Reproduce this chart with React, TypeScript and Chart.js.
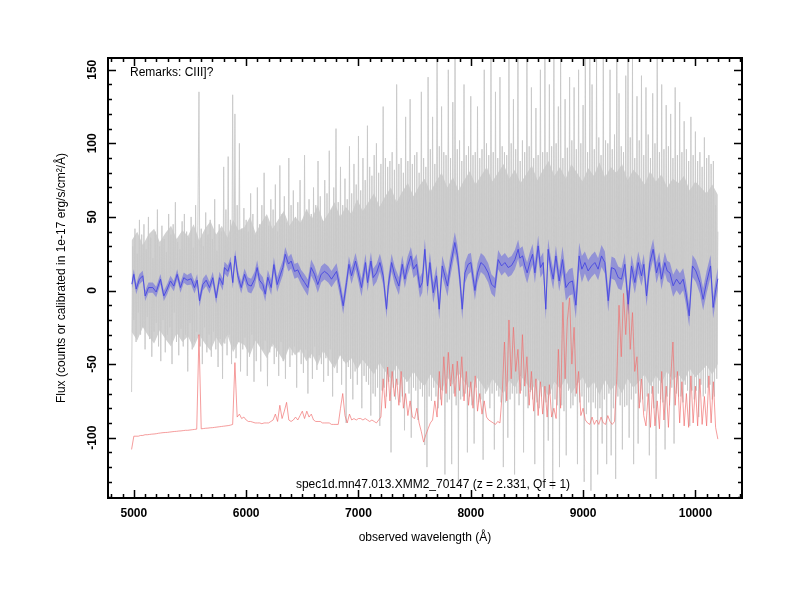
import React, { useEffect, useRef } from "react";
import { Chart, registerables } from "chart.js";
Chart.register(...registerables);

// ---------- data ----------
const WAVE_START = 4980;
const WAVE_END = 10200;

// raw (unsmoothed) spectrum, uniform 10 Å grid 4980..10200
const rawFlux = [
  -69, 30, -20, 42, -35, 25, -15, 48, -30, 38,
  -25, 45, -40, 28, -18, 50, -33, 36, -45, 22,
  -28, 40, -22, 55, -38, 30, -48, 44, -20, 35,
  -42, 26, -30, 52, -25, 38, -50, 45, -15, 60,
  -35, 33, -44, 28, -26, 47, -38, 52, -30, 40,
  -55, 36, -22, 50, -40, 29, -35, 58, -28, 44,
  135, -38, 42, -50, 30, -25, 53, -42, 38, -30,
  48, -45, 35, -28, 62, -40, 27, -52, 45, -33,
  40, -60, 84, -36, 55, -44, 91, -30, 48, -50,
  133, -38, 120, -46, 58, -35, 100, -55, 42, -40,
  56, -32, 48, -58, 40, -45, 66, -30, 52, -62,
  38, -48, 70, -36, 45, -55, 58, -40, 80, -34,
  50, -65, 44, -42, 62, -38, 55, -50, 72, -45,
  40, -58, 85, -35, 52, -48, 64, -60, 46, -40,
  90, -52, 58, -44, 68, -38, 50, -66, 60, -42,
  75, -50, 48, -56, 92, -40, 55, -70, 62, -46,
  52, -60, 70, -38, 58, -54, 88, -44, 64, -50,
  48, -62, 75, -46, 66, -58, 95, -40, 55, -72,
  70, -50, 110, -56, 60, -44, 84, -64, 58, -48,
  76, -90, 62, -52, 98, -60, 66, -74, 86, -55,
  72, -64, 105, -50, 68, -80, 90, -58, 75, -62,
  112, -64, 84, -85, 78, -70, 92, -72, 100, -66,
  80, -92, 86, -68, 125, -66, 90, -72, 84, -62,
  88, -110, 94, -66, 82, -74, 140, -64, 86, -76,
  90, -72, 80, -95, 118, -62, 88, -70, 130, -100,
  86, -66, 92, -68, 94, -88, 80, -67, 135, -72,
  90, -105, 84, -120, 145, -72, 96, -75, 118, -66,
  86, -72, 158, -80, 98, -74, 125, -68, 94, -125,
  92, -76, 150, -74, 90, -118, 128, -70, 158, -78,
  96, -130, 102, -74, 88, -72, 140, -70, 92, -110,
  98, -72, 132, -78, 92, -104, 94, -66, 125, -76,
  90, -74, 96, -115, 150, -70, 100, -64, 92, -80,
  158, -70, 94, -108, 135, -68, 90, -72, 145, -76,
  98, -120, 94, -76, 92, -100, 158, -74, 100, -70,
  130, -125, 96, -70, 158, -78, 88, -68, 102, -110,
  94, -72, 158, -80, 98, -69, 138, -74, 90, -118,
  124, -76, 92, -80, 150, -72, 94, -128, 158, -76,
  94, -102, 140, -70, 98, -135, 158, -74, 100, -78,
  125, -120, 158, -78, 90, -82, 130, -112, 97, -68,
  145, -80, 102, -78, 138, -72, 96, -118, 150, -76,
  100, -72, 126, -130, 158, -84, 94, -76, 158, -136,
  140, -76, 96, -80, 158, -125, 104, -80, 92, -104,
  158, -74, 102, -118, 100, -70, 150, -112, 96, -80,
  106, -128, 158, -72, 134, -78, 98, -108, 94, -79,
  146, -78, 158, -100, 104, -74, 158, -118, 90, -70,
  132, -104, 102, -76, 146, -74, 92, -82, 138, -72,
  106, -112, 90, -70, 134, -80, 100, -128, 158, -70,
  94, -74, 140, -76, 96, -108, 126, -72, 98, -78,
  120, -66, 90, -104, 138, -70, 92, -72, 128, -72,
  94, -76, 115, -64, 96, -68, 88, -92, 118, -68,
  92, -74, 108, -68, 88, -86, 94, -64, 84, -72,
  104, -70, 90, -66, 92, -64, 86, -74, 88, -72,
  58, -60, 40,
];

// dense core of the raw spectrum, uniform grid 4980..10200 (105 samples)
const coreUpper = [
  34, 40, 31, 38, 42, 33, 39, 44, 35, 41,
  37, 45, 34, 42, 47, 38, 44, 36, 48, 41,
  43, 50, 39, 46, 52, 42, 48, 54, 44, 50,
  46, 55, 49, 58, 47, 53, 60, 50, 57, 52,
  62, 54, 60, 66, 57, 64, 70, 60, 67, 73,
  64, 71, 76, 67, 74, 80, 70, 77, 68, 75,
  81, 72, 78, 84, 74, 80, 86, 76, 82, 73,
  79, 85, 75, 82, 88, 78, 84, 76, 86, 80,
  74, 83, 78, 87, 77, 84, 80, 86, 75, 82,
  78, 72, 81, 74, 79, 70, 76, 73, 78, 68,
  74, 70, 66, 72, 65,
];
const coreLower = [
  -28, -34, -25, -31, -36, -27, -33, -38, -29, -35,
  -31, -39, -30, -36, -41, -32, -38, -30, -42, -35,
  -37, -44, -34, -40, -46, -36, -42, -48, -38, -44,
  -40, -48, -43, -51, -41, -47, -53, -44, -50, -46,
  -54, -47, -52, -57, -49, -55, -60, -51, -58, -62,
  -55, -61, -65, -57, -63, -68, -59, -64, -56, -62,
  -67, -58, -63, -69, -60, -65, -70, -61, -66, -58,
  -63, -68, -60, -66, -72, -62, -67, -60, -70, -64,
  -59, -67, -62, -71, -61, -68, -63, -70, -60, -66,
  -62, -57, -65, -58, -63, -55, -61, -57, -62, -53,
  -59, -55, -51, -57, -50,
];

// sky spectrum (offset), uniform 20 Å grid 4980..10200
const skyFlux = [
  -108, -99, -99, -99, -98.5, -98.5, -98, -98, -97.8, -97.6,
  -97.5, -97.3, -97, -96.8, -96.6, -96.5, -96.4, -96.2, -96, -95.8,
  -95.7, -95.5, -95.4, -95.2, -95, -95, -94.8, -94.6, -94.4, -94.2,
  -30, -94, -93.8, -93.6, -93.5, -93.3, -93.2, -93, -92.8, -92.6,
  -92.4, -92.2, -92, -91.8, -91.5, -91, -49, -86, -84, -87,
  -86, -88, -89, -89, -89.5, -90, -90, -90, -90.5, -90,
  -90, -90, -89, -88, -84, -89, -78, -87, -82, -76,
  -88, -89, -88, -86, -88, -85, -82, -87, -82, -86,
  -84, -88, -89, -89, -89, -90, -90, -90, -90, -91,
  -91, -91, -91, -80, -70, -85, -90, -84, -88, -87,
  -88, -87, -87, -88, -87, -88, -89, -88, -89, -90,
  -88, -86, -60, -80, -52, -75, -55, -72, -60, -78,
  -55, -80, -70, -85, -75, -86, -87, -80, -90, -96,
  -103, -98, -94, -90, -88, -75, -86, -55, -78, -45,
  -70, -42, -65, -50, -72, -48, -68, -45, -75, -55,
  -78, -62, -80, -58, -82, -70, -84, -75, -86, -88,
  -89, -90, -91, -89, -90, -70, -35, -75, -20, -60,
  -25, -55, -40, -70, -30, -65, -45, -78, -55, -82,
  -60, -85, -62, -84, -65, -86, -64, -86, -80, -87,
  -40, -80, -8, -60, -20, -5, -50, -25, -70, -55,
  -85, -80, -88, -90, -91, -86, -91, -88, -91, -86,
  -90, -91, -85, -89, -91, -89, -60, -10, -45, -2,
  -30, 0, -40, -15, -55, -45, -80, -60, -85, -92,
  -70, -93, -65, -92, -75, -94, -55, -88, -65, -93,
  -60, -35, -78, -55, -90, -62, -92, -70, -93, -58,
  -90, -65, -92, -60, -91, -72, -92, -58, -90, -62,
  -93, -101,
];

// smoothed spectrum
const smoothWave = [
  4982, 5000, 5021, 5050, 5080, 5101, 5131, 5169, 5199, 5237, 5267, 5297, 5326, 5356, 5386, 5415, 5445, 5475, 5510, 5540,
  5564, 5585, 5614, 5644, 5674, 5703, 5733, 5763, 5792, 5807, 5837, 5861, 5881, 5902, 5926, 5956, 5986, 6015, 6045, 6075,
  6098, 6119, 6149, 6170, 6193, 6223, 6247, 6276, 6306, 6327, 6348, 6377, 6401, 6431, 6460, 6490, 6520, 6549, 6579, 6609,
  6638, 6668, 6698, 6731, 6760, 6805, 6835, 6864, 6894, 6915, 6938, 6974, 6998, 7027, 7063, 7081, 7111, 7131, 7161, 7191,
  7220, 7250, 7265, 7295, 7324, 7360, 7390, 7413, 7437, 7467, 7490, 7517, 7547, 7568, 7591, 7615, 7636, 7666, 7695, 7719,
  7746, 7769, 7793, 7814, 7858, 7882, 7903, 7924, 7948, 7977, 8001, 8037, 8060, 8090, 8120, 8155, 8185, 8215, 8244, 8274,
  8304, 8333, 8363, 8393, 8422, 8437, 8461, 8482, 8502, 8526, 8550, 8571, 8600, 8621, 8645, 8668, 8689, 8710, 8734, 8758,
  8787, 8817, 8847, 8876, 8906, 8936, 8965, 8989, 9016, 9045, 9075, 9105, 9134, 9164, 9194, 9224, 9253, 9283, 9313, 9342,
  9372, 9402, 9431, 9461, 9491, 9520, 9541, 9565, 9595, 9624, 9654, 9678, 9698, 9728, 9749, 9773, 9802, 9832, 9862, 9891,
  9915, 9945, 9974, 10004, 10040, 10069, 10099, 10135, 10158, 10182, 10200,
];
const smoothFlux = [
  4.3, 11, 1, 7.7, 10, -3.7, 2, 2, -1, 7.7, -3.7, 1, 6.5, 3, 11, 2, 8.7, 7, 8, 2,
  7, -7, 4, 7, 2, 8.7, -5, 8.7, 4, 15.6, 13, 19, 5.4, 23.5, 10, 2, 11, 4, 3, 7.7,
  15.6, 7, 4, -2.5, 9, 2, 17.6, 4, 11, 15.6, 24.6, 18, 20, 13, 14, 9, 5.5, 2, 15.6, 11,
  4, 11, 13, 11, 7.7, 13, 2, -10.4, 5.4, 17.8, 10, 20, 12, 2, 19, 5.4, 20, 8.8, 12, 19,
  10, -12.7, 3, 19, 10, 3, 17.8, 7.7, 16.7, 23.5, 14.5, 17.8, 2, 5.4, 28, 3, 19, -1.5, 10, -12.7,
  16.7, 10, 3, 14.5, 32.6, 23.5, 7.7, -12.7, 12, 17.8, 19, 0, 12, 19, 17, 12, 4.3, 2, 21, 16.7,
  19, 15.6, 17, 21, 28, 22, 23.5, 16.7, 12, 19, 24.6, 12, 30.3, 15.6, 19, -12.7, 28, 16.7, 7.7, 23.5,
  6.5, 21, 2, 5.4, 6.5, -10, 23.5, 14.5, 19, 13.3, 16.7, 19, 14.5, 23.5, 19, -7, 15.6, 14.5, 8.8, 7.7,
  17.8, -9.3, 16.7, 5.4, 19, 10, 17.8, -3.7, 19, 28, 12, 19, 7.7, 19, 13.3, 12, 3.2, 7.7, 4.3, 7.7,
  -1.5, -17.2, 16.7, 13.3, 5.4, -6, 5.4, 16.7, -11.5, 0.9, 8,
];
// 1-sigma of smoothed spectrum, piecewise by wavelength segment
const errSegmentEnd = [5500, 6000, 6500, 7000, 7500, 8000, 8500, 8800, 9000, 9500, 9800, 10300];
const errSigma = [3.5, 4, 5, 5.5, 6, 7, 6.5, 7, 9, 7.5, 7, 7.5];

const xMajorTicks = [5000, 6000, 7000, 8000, 9000, 10000];
const yMajorTicks = [-100, -50, 0, 50, 100, 150];

const X_MIN = 4770;
const X_MAX = 10415;
const Y_MIN = -141;
const Y_MAX = 158;

const remarkText = "Remarks: CIII]?";
const objectText = "spec1d.mn47.013.XMM2_70147 (z = 2.331, Qf = 1)";
const xTitle = "observed wavelength (Å)";
const yTitle = "Flux (counts or calibrated in 1e-17 erg/s/cm²/Å)";

// ---------- helpers ----------
function onGrid(values: number[]) {
  const n = values.length;
  const step = (WAVE_END - WAVE_START) / (n - 1);
  return values.map((y, i) => ({ x: WAVE_START + i * step, y }));
}
function sigmaAt(w: number) {
  for (let i = 0; i < errSegmentEnd.length; i++) if (w < errSegmentEnd[i]) return errSigma[i];
  return errSigma[errSigma.length - 1];
}

const FONT = "'Liberation Sans', Arial, Helvetica, sans-serif";

const framePlugin = {
  id: "frameTicks",
  afterDraw(chart: any) {
    const ctx = chart.ctx as CanvasRenderingContext2D;
    const { left, right, top, bottom } = chart.chartArea;
    const xs = chart.scales.x;
    const ys = chart.scales.y;
    ctx.save();
    ctx.strokeStyle = "#000";
    ctx.fillStyle = "#000";
    ctx.lineWidth = 1.5;
    ctx.beginPath();
    for (let v = Math.ceil(X_MIN / 100) * 100; v <= X_MAX; v += 100) {
      const px = Math.round(xs.getPixelForValue(v)) + 0.5;
      const len = v % 1000 === 0 ? 8 : 4;
      ctx.moveTo(px, bottom);
      ctx.lineTo(px, bottom - len);
      ctx.moveTo(px, top);
      ctx.lineTo(px, top + len);
    }
    for (let v = Math.ceil(Y_MIN / 10) * 10; v <= Y_MAX; v += 10) {
      const py = Math.round(ys.getPixelForValue(v)) + 0.5;
      const len = v % 50 === 0 ? 8 : 4;
      ctx.moveTo(left, py);
      ctx.lineTo(left + len, py);
      ctx.moveTo(right, py);
      ctx.lineTo(right - len, py);
    }
    ctx.stroke();
    ctx.lineWidth = 2;
    ctx.strokeRect(left, top, right - left, bottom - top);
    ctx.font = `bold 12px ${FONT}`;
    ctx.textAlign = "center";
    ctx.textBaseline = "middle";
    xMajorTicks.forEach((v) => {
      ctx.fillText(String(v), xs.getPixelForValue(v), bottom + 16);
    });
    yMajorTicks.forEach((v) => {
      ctx.save();
      ctx.translate(left - 15, ys.getPixelForValue(v));
      ctx.rotate(-Math.PI / 2);
      ctx.fillText(String(v), 0, 0);
      ctx.restore();
    });
    ctx.font = `12px ${FONT}`;
    ctx.fillText(xTitle, (left + right) / 2, bottom + 40);
    ctx.save();
    ctx.translate(62, (top + bottom) / 2);
    ctx.rotate(-Math.PI / 2);
    ctx.fillText(yTitle, 0, 0);
    ctx.restore();
    ctx.textAlign = "left";
    ctx.fillText(remarkText, left + 22, top + 15);
    ctx.textAlign = "center";
    ctx.fillText(objectText, (left + right) / 2 + 8, bottom - 13);
    ctx.restore();
  },
};

export default function App() {
  const ref = useRef<HTMLCanvasElement | null>(null);
  useEffect(() => {
    if (!ref.current) return;
    const smoothPts = smoothWave.map((x, i) => ({ x, y: smoothFlux[i] }));
    const smoothHi = smoothWave.map((x, i) => ({ x, y: smoothFlux[i] + sigmaAt(x) }));
    const smoothLo = smoothWave.map((x, i) => ({ x, y: smoothFlux[i] - sigmaAt(x) }));
    const none = "rgba(0,0,0,0)";
    const chart = new Chart(ref.current, {
      type: "line",
      data: {
        datasets: [
          { data: smoothPts, borderColor: "rgb(70,70,225)", borderWidth: 0.9, pointRadius: 0, order: 0, fill: false },
          { data: smoothHi, borderColor: none, borderWidth: 0, pointRadius: 0, order: 1, fill: 2, backgroundColor: "rgba(90,90,225,0.5)" },
          { data: smoothLo, borderColor: none, borderWidth: 0, pointRadius: 0, order: 2, fill: false },
          { data: onGrid(skyFlux), borderColor: "rgba(240,110,110,0.85)", borderWidth: 0.8, pointRadius: 0, order: 3, fill: false },
          { data: onGrid(rawFlux), borderColor: "rgb(200,200,200)", borderWidth: 0.9, pointRadius: 0, order: 4, fill: false },
          { data: onGrid(coreUpper), borderColor: none, borderWidth: 0, pointRadius: 0, order: 5, fill: 6, backgroundColor: "rgb(209,209,209)" },
          { data: onGrid(coreLower), borderColor: none, borderWidth: 0, pointRadius: 0, order: 6, fill: false },
        ] as any,
      },
      options: {
        animation: false,
        responsive: false,
        events: [],
        layout: { padding: { left: 108, right: 58, top: 58, bottom: 102 } },
        plugins: { legend: { display: false }, tooltip: { enabled: false } },
        scales: {
          x: { type: "linear", min: X_MIN, max: X_MAX, display: false },
          y: { type: "linear", min: Y_MIN, max: Y_MAX, display: false },
        },
      } as any,
      plugins: [framePlugin],
    });
    return () => chart.destroy();
  }, []);
  return (
    <div style={{ position: "absolute", left: 0, top: 0, width: 800, height: 600, background: "#fff" }}>
      <canvas ref={ref} width={800} height={600} style={{ display: "block" }} />
    </div>
  );
}
